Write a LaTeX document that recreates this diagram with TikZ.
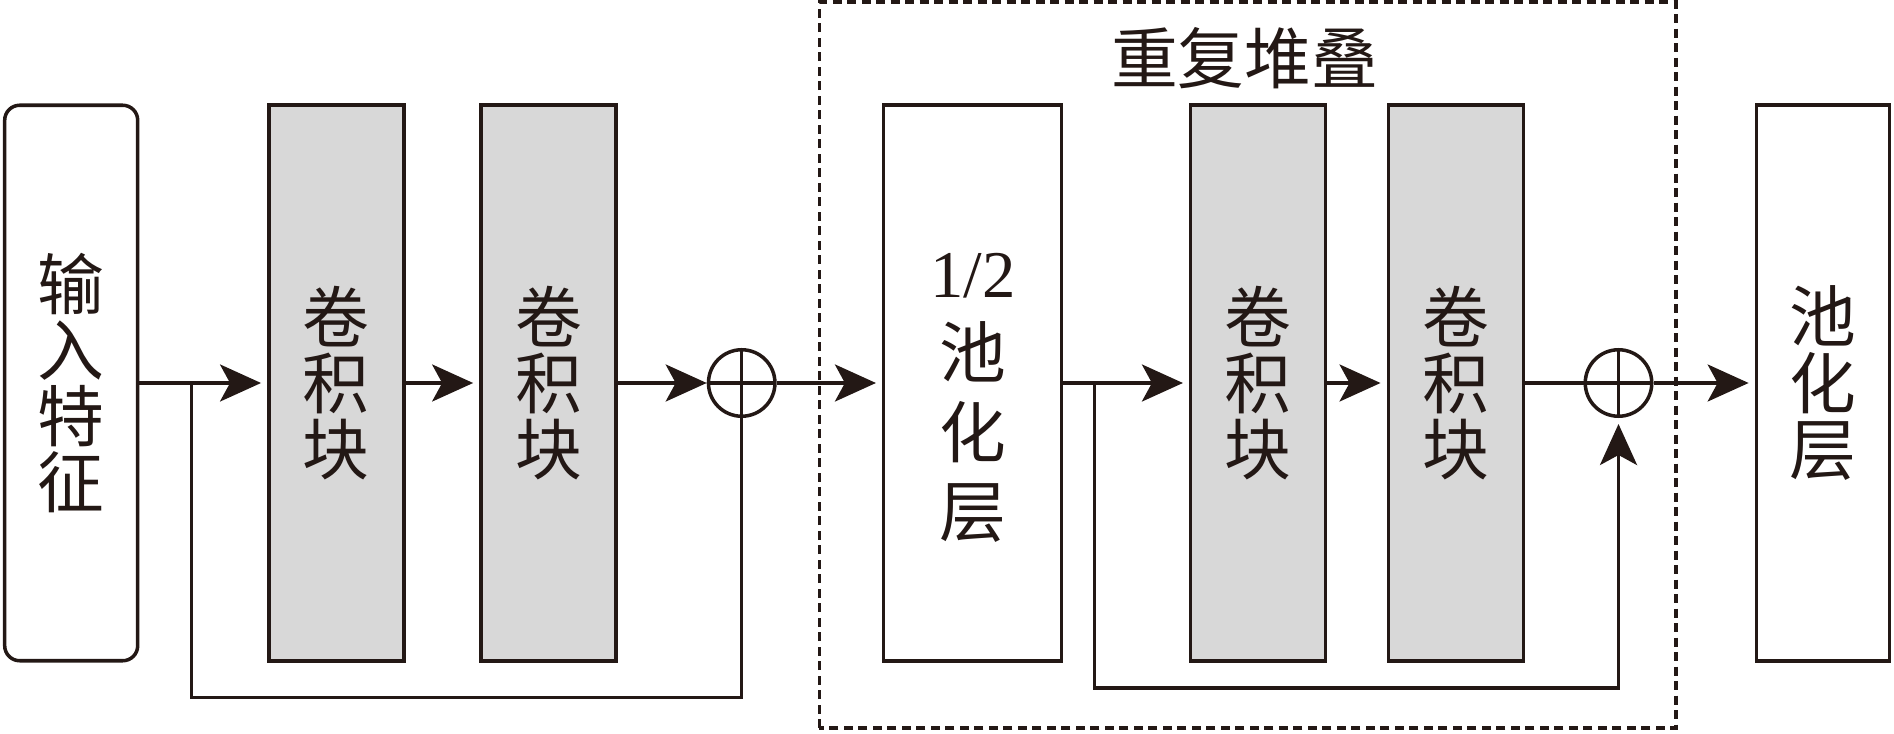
\documentclass[tikz,border=0pt]{standalone}
\usepackage{fontspec}
\setmainfont{Liberation Serif}
\newfontfamily\cjk{Noto Sans CJK SC}
\usepackage{tikz}
\usetikzlibrary{arrows.meta,positioning}
\definecolor{ink}{RGB}{35,24,21}
\definecolor{convgray}{RGB}{216,216,216}
\tikzset{
  blk/.style={
    draw=ink,
    line width=1pt,
    minimum width=1.35cm,
    minimum height=5.555cm,
    inner sep=0pt,
    align=center,
    text=ink,
    font=\cjk\fontsize{19}{18.8}\selectfont
  },
  convblk/.style={blk,fill=convgray},
  inblk/.style={blk,rounded corners=0.15cm,minimum width=1.33cm},
  addop/.style={
    circle,draw=ink,line width=1pt,
    minimum size=0.665cm,inner sep=0pt,
    path picture={
      \draw[ink,line width=1pt] (path picture bounding box.north) -- (path picture bounding box.south);
      \draw[ink,line width=1pt] (path picture bounding box.west) -- (path picture bounding box.east);
    }
  },
  flow/.style={draw=ink,line width=1pt,
    -{Stealth[length=0.41cm,width=0.37cm,inset=0.1cm]}},
  tobox/.style={flow,shorten >=0.06cm},
  link/.style={draw=ink,line width=1pt}
}

\begin{document}
\begin{tikzpicture}[>=latex]
\useasboundingbox (0,0) rectangle (18.94,7.33);

% first stage
\node[inblk] (inp) at (0.712,3.5) {输\\入\\特\\征};
\node[convblk] (conv1) at (3.363,3.5) {卷\\积\\块};
\node[convblk] (conv2) at (5.484,3.5) {卷\\积\\块};
\node[addop] (add1) at (7.417,3.5) {};

% repeated part
\draw[ink,line width=0.9pt,dash pattern=on 0.09cm off 0.055cm]
  (8.193,0.05) rectangle (16.76,7.31);
\node[text=ink,font=\cjk\fontsize{19}{19}\selectfont] (rep) at (12.446,6.75) {重复堆叠};
\node[blk,minimum width=1.78cm] (pool1) at (9.727,3.5) {};
\node[text=ink,align=center,inner sep=0pt,font=\cjk\fontsize{19}{22.7}\selectfont]
  (pool1txt) at ([yshift=-0.15cm]pool1.center) {{\rmfamily 1/2}\\池\\化\\层};
\node[convblk] (conv3) at (12.582,3.5) {卷\\积\\块};
\node[convblk] (conv4) at (14.558,3.5) {卷\\积\\块};
\node[addop] (add2) at (16.185,3.5) {};

% output
\node[blk,minimum width=1.33cm] (pool2) at (18.229,3.5) {池\\化\\层};

% main path
\draw[tobox] (inp) -- (conv1);
\draw[tobox] (conv1) -- (conv2);
\draw[flow] (conv2) -- (add1);
\draw[tobox] (add1) -- (pool1);
\draw[tobox] (pool1) -- (conv3);
\draw[tobox] (conv3) -- (conv4);
\draw[link] (conv4) -- (add2);
\draw[tobox] (add2) -- (pool2);

% skip paths
\coordinate (sp1) at (1.915,3.5);
\coordinate (sb1) at (1.915,0.355);
\draw[link] (sp1) -- (sb1) -| (add1.south);

\coordinate (sp2) at (10.943,3.5);
\coordinate (sb2) at (10.943,0.45);
\draw[tobox] (sp2) -- (sb2) -| (add2.south);

\end{tikzpicture}
\end{document}
